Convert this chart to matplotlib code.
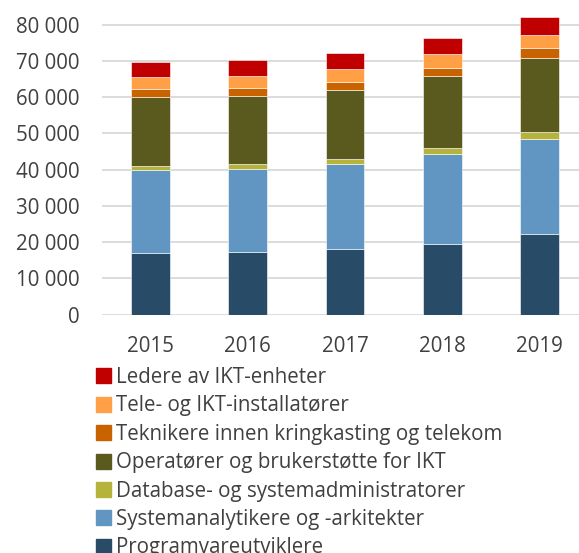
import matplotlib
matplotlib.use('Agg')
import matplotlib.pyplot as plt
import matplotlib.patches as mpatches
import numpy as np

plt.rcParams['font.family'] = ['Open Sans', 'DejaVu Sans']

years = ['2015', '2016', '2017', '2018', '2019']

# series from bottom to top of each stack
series_names = [
    'Programvareutviklere',
    'Systemanalytikere og -arkitekter',
    'Database- og systemadministratorer',
    'Operatører og brukerstøtte for IKT',
    'Teknikere innen kringkasting og telekom',
    'Tele- og IKT-installatører',
    'Ledere av IKT-enheter',
]
programvare = [17100, 17400, 18200, 19600, 22250]
systemanalyse = [22700, 22800, 23450, 24800, 26300]
database = [1300, 1400, 1300, 1550, 1750]
operatorer = [19000, 18750, 18950, 19950, 20600]
teknikere = [2100, 2200, 2300, 2300, 2650]
installatorer = [3400, 3300, 3500, 3600, 3750]
ledere = [4200, 4300, 4500, 4600, 4800]

colors = ['#284B68', '#6196C3', '#B5B33C', '#5A5A1E',
          '#C96300', '#FFA046', '#C00000']

values = [programvare, systemanalyse, database, operatorer,
          teknikere, installatorer, ledere]

fig = plt.figure(figsize=(5.79, 5.53), dpi=100)
ax = fig.add_axes([102/579, 0.4309, 486/579, 0.544])

x = np.arange(len(years))
bottom = np.zeros(len(years))
for vals, col, name in zip(values, colors, series_names):
    ax.bar(x, vals, 0.4, bottom=bottom, color=col, label=name,
           edgecolor='white', linewidth=0.4, zorder=3)
    bottom += np.array(vals)

ax.set_xlim(-0.5, 4.5)
ax.set_ylim(0, 83000)
ax.set_yticks(range(0, 80001, 10000))
ax.set_yticklabels([f'{v:,}'.replace(',', ' ') for v in range(0, 80001, 10000)])
ax.set_xticks(x)
ax.set_xticklabels(years)
ax.yaxis.grid(True, color='#D9D9D9', linewidth=1.3, zorder=0)
ax.set_axisbelow(True)
for s in ax.spines.values():
    s.set_visible(False)
ax.tick_params(axis='both', length=0, labelsize=14.8, labelcolor='#404040')
ax.tick_params(axis='y', pad=16)
ax.tick_params(axis='x', pad=15)

handles = [mpatches.Patch(color=c) for c in colors][::-1]
fig.legend(handles, series_names[::-1], loc='upper left',
           bbox_to_anchor=(96/579, 1 - 367/553), frameon=False,
           fontsize=14.8, labelcolor='#404040', borderpad=0,
           borderaxespad=0, handlelength=0.75, handleheight=0.75,
           handletextpad=0.2, labelspacing=0.36)

fig.savefig('out.png', dpi=100)
